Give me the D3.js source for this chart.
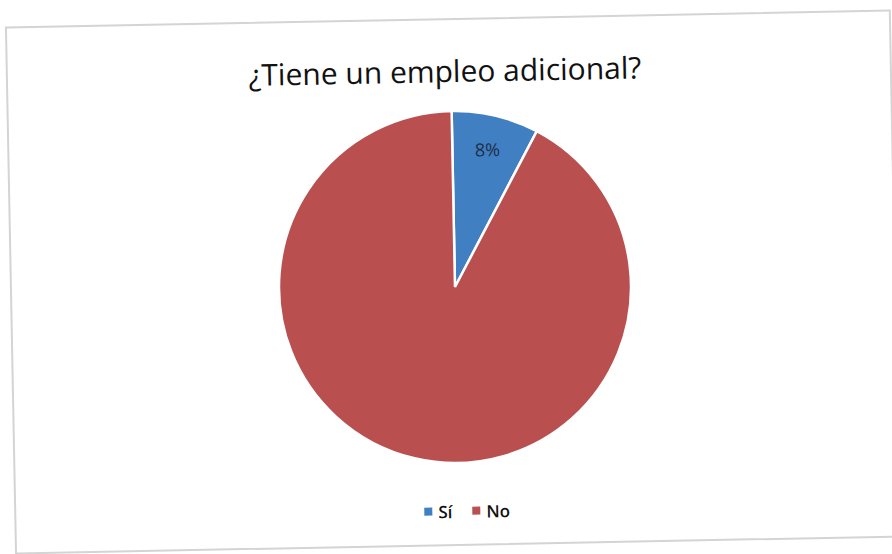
<!DOCTYPE html>
<html>
<head>
<meta charset="utf-8">
<script src="https://cdn.jsdelivr.net/npm/d3@7"></script>
<style>
  body { margin: 0; background: #fff; }
  text { font-family: "Open Sans", "Noto Sans", sans-serif; }
</style>
</head>
<body>
<div id="chart"></div>
<script>
var categories = ["Sí", "No"];
var values = [8, 92];
var colors = ["#3f7fc2", "#b9504f"];
var title = "¿Tiene un empleo adicional?";

var width = 892, height = 554;
var cx = 455, cy = 287, radius = 176;

var svg = d3.select("#chart").append("svg")
    .attr("width", width)
    .attr("height", height);

// todo el grafico va un poco girado (escaneado)
var g = svg.append("g")
    .attr("transform", "rotate(-1.1," + cx + "," + cy + ")");

g.append("rect")
    .attr("x", 11).attr("y", 19)
    .attr("width", 884).attr("height", 526)
    .attr("fill", "none")
    .attr("stroke", "#d4d4d4")
    .attr("stroke-width", 2);

g.append("text")
    .attr("x", 449).attr("y", 82)
    .attr("text-anchor", "middle")
    .style("font-size", "30px")
    .style("font-weight", "500")
    .style("fill", "#111")
    .text(title);

var pie = d3.pie().sort(null).value(function(d){ return d; });
var arc = d3.arc().innerRadius(0).outerRadius(radius);
var labelArc = d3.arc().innerRadius(radius * 0.8).outerRadius(radius * 0.8);

var arcs = pie(values);

var slices = g.append("g")
    .attr("transform", "translate(" + cx + "," + cy + ")");

slices.selectAll("path")
    .data(arcs)
    .enter()
    .append("path")
    .attr("d", arc)
    .attr("fill", function(d, i){ return colors[i]; })
    .attr("stroke", "#fff")
    .attr("stroke-width", 2.5);

var total = d3.sum(values);
slices.selectAll("text")
    .data(arcs.filter(function(d){ return d.index == 0; }))
    .enter()
    .append("text")
    .attr("transform", function(d){ return "translate(" + labelArc.centroid(d) + ")"; })
    .attr("text-anchor", "middle")
    .attr("dy", "0.35em")
    .style("font-size", "18px")
    .style("fill", "#1e2d47")
    .text(function(d){ return Math.round(d.value / total * 100) + "%"; });

// leyenda
var legendX = [420, 468];
var legend = g.append("g");
categories.forEach(function(c, i){
    legend.append("rect")
        .attr("x", legendX[i]).attr("y", 507)
        .attr("width", 8).attr("height", 8)
        .attr("fill", colors[i]);
    legend.append("text")
        .attr("x", legendX[i] + 14).attr("y", 518)
        .style("font-size", "17px")
        .style("font-weight", "600")
        .style("fill", "#111")
        .text(c);
});
</script>
</body>
</html>
